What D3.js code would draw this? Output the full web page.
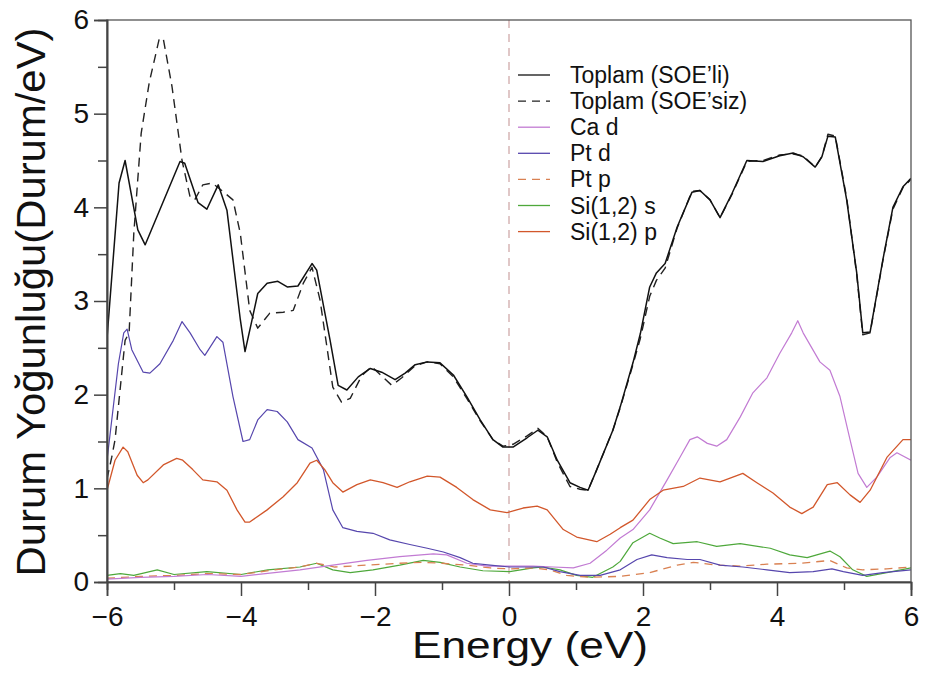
<!DOCTYPE html>
<html>
<head>
<meta charset="utf-8">
<script src="https://cdn.jsdelivr.net/npm/d3@7"></script>
<style>
  html, body { margin: 0; padding: 0; background: #ffffff; }
  svg { display: block; font-family: "Liberation Sans", Arial, sans-serif; }
</style>
</head>
<body>
<svg id="chart" width="925" height="677"></svg>
<script>
// ---------- data (Energy in eV, DOS in Durum/eV) ----------
const xTicks = [-6, -4, -2, 0, 2, 4, 6];
const yTicks = [0, 1, 2, 3, 4, 5, 6];

const toplamSOE = [[-6,2.6],[-5.82,4.26],[-5.73,4.5],[-5.54,3.76],[-5.43,3.6],[-4.91,4.49],[-4.84,4.47],[-4.64,4.05],[-4.51,3.98],[-4.34,4.24],[-4.21,3.97],[-4.01,2.8],[-3.94,2.46],[-3.85,2.75],[-3.75,3.08],[-3.61,3.19],[-3.45,3.21],[-3.31,3.15],[-3.15,3.16],[-2.94,3.4],[-2.87,3.33],[-2.67,2.58],[-2.55,2.1],[-2.42,2.05],[-2.25,2.19],[-2.07,2.28],[-1.9,2.24],[-1.7,2.16],[-1.55,2.23],[-1.4,2.32],[-1.22,2.35],[-1.03,2.34],[-0.83,2.21],[-0.63,1.98],[-0.43,1.73],[-0.24,1.52],[-0.09,1.44],[0.06,1.44],[0.27,1.54],[0.43,1.62],[0.57,1.55],[0.72,1.3],[0.91,1.06],[1.06,1.01],[1.18,0.98],[1.31,1.2],[1.55,1.62],[1.66,1.87],[1.85,2.34],[1.96,2.65],[2.1,3.15],[2.2,3.3],[2.33,3.4],[2.51,3.79],[2.73,4.16],[2.85,4.18],[3.0,4.08],[3.15,3.89],[3.33,4.15],[3.55,4.5],[3.79,4.49],[4.04,4.55],[4.24,4.58],[4.39,4.54],[4.57,4.43],[4.67,4.54],[4.76,4.76],[4.87,4.75],[5.04,4.08],[5.19,3.3],[5.28,2.66],[5.39,2.67],[5.58,3.44],[5.73,4.0],[5.88,4.22],[6.0,4.31]];

const toplamNoSOE = [[-6,1.1],[-5.93,1.33],[-5.88,1.52],[-5.73,2.58],[-5.67,2.66],[-5.6,3.72],[-5.49,4.79],[-5.37,5.33],[-5.22,5.8],[-5.16,5.8],[-5.03,5.29],[-4.88,4.5],[-4.76,4.11],[-4.69,4.08],[-4.57,4.24],[-4.43,4.26],[-4.27,4.17],[-4.12,4.08],[-4.01,3.72],[-3.87,2.9],[-3.75,2.71],[-3.57,2.87],[-3.37,2.88],[-3.22,2.9],[-3.07,3.19],[-2.94,3.36],[-2.82,3.01],[-2.63,2.08],[-2.5,1.92],[-2.37,1.96],[-2.2,2.2],[-2.05,2.3],[-1.9,2.2],[-1.75,2.1],[-1.6,2.18],[-1.4,2.31],[-1.22,2.35],[-1.03,2.33],[-0.83,2.19],[-0.63,1.96],[-0.43,1.72],[-0.24,1.52],[-0.09,1.45],[0.06,1.47],[0.27,1.56],[0.43,1.64],[0.57,1.55],[0.72,1.28],[0.91,1.02],[1.06,0.99],[1.18,0.98],[1.31,1.2],[1.55,1.62],[1.66,1.86],[1.85,2.32],[1.96,2.6],[2.1,3.05],[2.2,3.22],[2.33,3.35],[2.51,3.78],[2.73,4.17],[2.85,4.18],[3.0,4.08],[3.15,3.89],[3.33,4.14],[3.55,4.49],[3.79,4.5],[4.04,4.56],[4.24,4.57],[4.39,4.55],[4.57,4.43],[4.67,4.54],[4.76,4.78],[4.87,4.76],[5.04,4.1],[5.19,3.28],[5.28,2.64],[5.39,2.66],[5.58,3.43],[5.73,3.98],[5.88,4.21],[6.0,4.3]];

const caD = [[-6,0.03],[-5.5,0.05],[-5,0.06],[-4.5,0.08],[-4,0.06],[-3.5,0.1],[-3.12,0.13],[-2.63,0.18],[-2.12,0.23],[-1.63,0.27],[-1.13,0.3],[-0.93,0.29],[-0.63,0.2],[-0.33,0.17],[0,0.17],[0.36,0.17],[0.66,0.16],[0.96,0.15],[1.21,0.2],[1.46,0.34],[1.66,0.47],[1.85,0.56],[2.1,0.77],[2.36,1.09],[2.55,1.33],[2.7,1.52],[2.81,1.55],[2.96,1.48],[3.1,1.45],[3.25,1.52],[3.45,1.76],[3.64,2.02],[3.85,2.18],[4.04,2.44],[4.22,2.66],[4.31,2.79],[4.39,2.66],[4.64,2.35],[4.79,2.26],[4.94,1.98],[5.09,1.52],[5.21,1.16],[5.34,1.01],[5.49,1.12],[5.69,1.33],[5.79,1.38],[6,1.3]];

const ptD = [[-6,1.3],[-5.83,2.33],[-5.75,2.66],[-5.7,2.7],[-5.63,2.48],[-5.46,2.24],[-5.36,2.23],[-5.21,2.33],[-5.01,2.58],[-4.88,2.78],[-4.76,2.66],[-4.61,2.48],[-4.54,2.42],[-4.36,2.62],[-4.27,2.56],[-4.12,1.98],[-3.97,1.5],[-3.87,1.52],[-3.75,1.73],[-3.61,1.84],[-3.46,1.82],[-3.31,1.71],[-3.15,1.52],[-2.94,1.43],[-2.77,1.2],[-2.63,0.77],[-2.48,0.58],[-2.27,0.54],[-2.03,0.52],[-1.78,0.45],[-1.48,0.4],[-1.22,0.36],[-0.98,0.32],[-0.73,0.26],[-0.54,0.2],[-0.28,0.18],[0.01,0.16],[0.36,0.16],[0.51,0.16],[0.76,0.11],[1.06,0.07],[1.36,0.07],[1.66,0.13],[1.91,0.24],[2.13,0.29],[2.36,0.26],[2.66,0.24],[2.85,0.24],[3.15,0.18],[3.49,0.16],[3.85,0.13],[4.19,0.1],[4.54,0.11],[4.82,0.14],[4.99,0.11],[5.28,0.07],[5.58,0.1],[6.0,0.13]];

const ptP = [[-6,0.04],[-5.5,0.06],[-5,0.07],[-4.5,0.09],[-4,0.08],[-3.5,0.13],[-3.12,0.16],[-2.87,0.2],[-2.6,0.16],[-2.12,0.18],[-1.63,0.2],[-1.28,0.21],[-1.0,0.2],[-0.63,0.18],[-0.28,0.15],[0.01,0.14],[0.36,0.15],[0.61,0.13],[0.86,0.07],[1.21,0.05],[1.66,0.06],[2.1,0.1],[2.51,0.18],[2.75,0.21],[3.1,0.18],[3.45,0.17],[3.85,0.19],[4.34,0.2],[4.79,0.23],[5.04,0.15],[5.28,0.13],[5.64,0.14],[6,0.16]];

const siS = [[-6,0.07],[-5.8,0.09],[-5.6,0.07],[-5.25,0.13],[-5.0,0.08],[-4.51,0.11],[-4.0,0.08],[-3.6,0.13],[-3.12,0.16],[-2.87,0.2],[-2.63,0.13],[-2.37,0.1],[-2.03,0.13],[-1.63,0.18],[-1.28,0.23],[-1.03,0.21],[-0.73,0.16],[-0.39,0.12],[0.01,0.11],[0.36,0.15],[0.51,0.16],[0.76,0.13],[1.01,0.07],[1.25,0.05],[1.55,0.16],[1.66,0.22],[1.85,0.42],[2.1,0.52],[2.25,0.47],[2.45,0.41],[2.81,0.43],[3.1,0.38],[3.45,0.41],[3.9,0.36],[4.19,0.29],[4.45,0.26],[4.79,0.33],[4.94,0.27],[5.13,0.13],[5.34,0.06],[5.64,0.1],[6,0.15]];

const siP = [[-6,0.98],[-5.88,1.3],[-5.76,1.44],[-5.69,1.39],[-5.55,1.14],[-5.46,1.06],[-5.39,1.09],[-5.16,1.25],[-4.96,1.32],[-4.87,1.3],[-4.72,1.2],[-4.57,1.09],[-4.36,1.07],[-4.21,0.98],[-4.06,0.77],[-3.94,0.64],[-3.87,0.64],[-3.61,0.77],[-3.37,0.91],[-3.16,1.06],[-2.97,1.27],[-2.87,1.3],[-2.75,1.2],[-2.63,1.06],[-2.48,0.96],[-2.27,1.04],[-2.07,1.09],[-1.88,1.06],[-1.67,1.01],[-1.48,1.07],[-1.22,1.13],[-1.03,1.12],[-0.78,1.01],[-0.54,0.88],[-0.28,0.77],[-0.03,0.74],[0.21,0.79],[0.42,0.81],[0.57,0.77],[0.81,0.56],[1.01,0.48],[1.31,0.43],[1.51,0.51],[1.66,0.58],[1.85,0.66],[2.1,0.88],[2.3,0.98],[2.6,1.02],[2.85,1.11],[3.15,1.07],[3.34,1.12],[3.49,1.16],[3.7,1.06],[3.94,0.95],[4.19,0.8],[4.37,0.73],[4.54,0.8],[4.75,1.04],[4.9,1.06],[5.09,0.93],[5.24,0.85],[5.39,0.98],[5.64,1.33],[5.88,1.52],[6,1.52]];

const seriesNames = ["Toplam (SOE’li)", "Toplam (SOE’siz)", "Ca d", "Pt d", "Pt p", "Si(1,2) s", "Si(1,2) p"];
const seriesData = [toplamSOE, toplamNoSOE, caD, ptD, ptP, siS, siP];
const seriesColors = ["#111111", "#222222", "#c27bd3", "#5646ad", "#d98152", "#4ea83b", "#d2572b"];
const seriesDash = [null, "9,6", null, null, "8,6", null, null];
const seriesWidth = [1.5, 1.4, 1.2, 1.2, 1.3, 1.2, 1.3];
// draw order (bottom to top)
const drawOrder = [5, 4, 2, 3, 6, 1, 0];

// ---------- layout ----------
const W = 925, H = 677;
const margin = { left: 107, right: 14, top: 20, bottom: 95 };
const svg = d3.select("#chart");
const x = d3.scaleLinear().domain([-6, 6]).range([margin.left, W - margin.right]);
const y = d3.scaleLinear().domain([0, 6]).range([H - margin.bottom, margin.top]);

svg.append("rect").attr("width", W).attr("height", H).attr("fill", "#ffffff");

// clip
svg.append("clipPath").attr("id", "clip").append("rect")
  .attr("x", x(-6)).attr("y", y(6)).attr("width", x(6) - x(-6)).attr("height", y(0) - y(6));

// Fermi line
svg.append("line")
  .attr("x1", x(0)).attr("x2", x(0)).attr("y1", y(6)).attr("y2", y(0))
  .attr("stroke", "#c79a9a").attr("stroke-width", 1.1).attr("stroke-dasharray", "8,6");

const line = d3.line().x(d => x(d[0])).y(d => y(d[1]));
const g = svg.append("g").attr("clip-path", "url(#clip)");
drawOrder.forEach(i => {
  g.append("path").datum(seriesData[i])
    .attr("d", line)
    .attr("fill", "none")
    .attr("stroke", seriesColors[i])
    .attr("stroke-width", seriesWidth[i])
    .attr("stroke-linejoin", "round")
    .attr("stroke-dasharray", seriesDash[i]);
});

// frame (top & right)
svg.append("rect")
  .attr("x", x(-6)).attr("y", y(6)).attr("width", x(6) - x(-6)).attr("height", y(0) - y(6))
  .attr("fill", "none").attr("stroke", "#555").attr("stroke-width", 1.3);

// axes
const yAxis = d3.axisLeft(y).tickValues(yTicks).tickSize(13).tickPadding(5).tickFormat(d3.format("d"));
const yMinor = d3.axisLeft(y).tickValues(d3.range(0.5, 6, 1)).tickSize(9).tickFormat("");
const xAxis = d3.axisBottom(x).tickValues(xTicks).tickSize(14).tickPadding(10).tickFormat(d3.format("d"));
const xMinor = d3.axisBottom(x).tickValues([-5, -3, -1, 1, 3, 5]).tickSize(8).tickFormat("");

function styleAxis(sel) {
  sel.select(".domain").attr("stroke", "#444").attr("stroke-width", 1.6);
  sel.selectAll(".tick line").attr("stroke", "#444").attr("stroke-width", 1.5);
  sel.selectAll(".tick text").attr("fill", "#111").style("font-size", "28px")
    .style("font-family", "'Liberation Sans', Arial, sans-serif");
}
svg.append("g").attr("transform", `translate(${x(-6)},0)`).call(yMinor).call(styleAxis);
svg.append("g").attr("transform", `translate(${x(-6)},0)`).call(yAxis).call(styleAxis);
svg.append("g").attr("transform", `translate(0,${y(0)})`).call(xMinor).call(styleAxis);
svg.append("g").attr("transform", `translate(0,${y(0)})`).call(xAxis).call(styleAxis);

// axis titles
svg.append("text")
  .attr("x", 530).attr("y", 658)
  .attr("text-anchor", "middle")
  .attr("textLength", 236).attr("lengthAdjust", "spacingAndGlyphs")
  .style("font-size", "37px").attr("fill", "#111")
  .text("Energy (eV)");

svg.append("text")
  .attr("transform", "translate(45,302) rotate(-90)")
  .attr("text-anchor", "middle")
  .attr("textLength", 549).attr("lengthAdjust", "spacingAndGlyphs")
  .style("font-size", "40px").attr("fill", "#111")
  .text("Durum Yoğunluğu(Durum/eV)");

// legend
const legend = svg.append("g");
seriesNames.forEach((name, i) => {
  const by = 83 + i * 26.1;
  legend.append("line")
    .attr("x1", 518).attr("x2", 550).attr("y1", by - 8).attr("y2", by - 8)
    .attr("stroke", seriesColors[i]).attr("stroke-width", 1.3)
    .attr("stroke-dasharray", seriesDash[i] ? "8,6" : null);
  legend.append("text")
    .attr("x", 570).attr("y", by)
    .style("font-size", "23px").attr("fill", "#111")
    .text(name);
});
</script>
</body>
</html>
